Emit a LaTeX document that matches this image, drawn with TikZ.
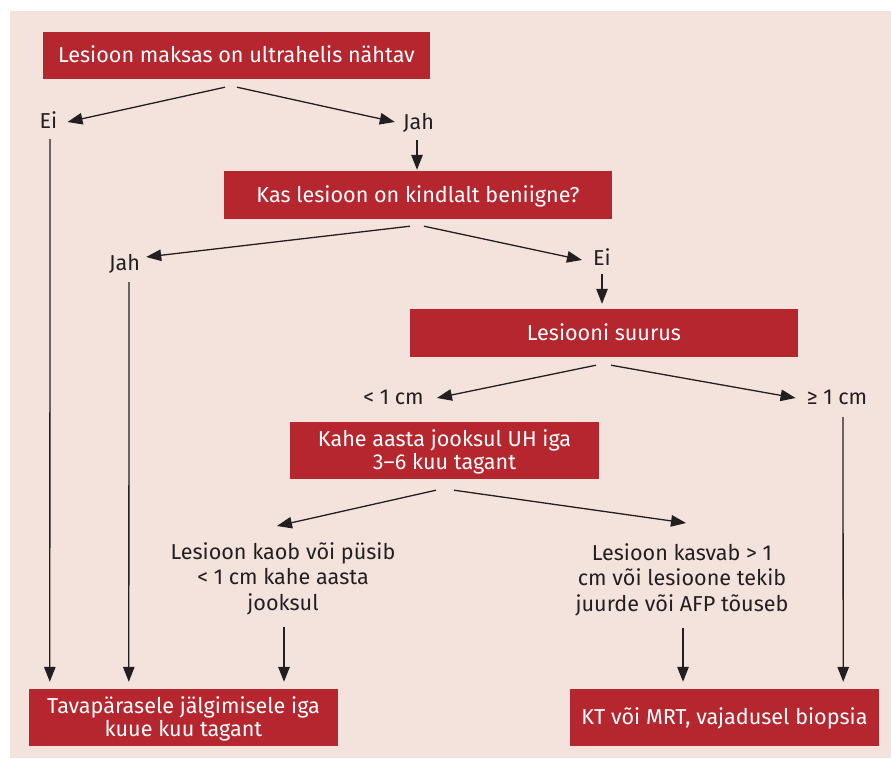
\documentclass[tikz,border=0pt]{standalone}
\usepackage{fontspec}
\setmainfont{Fira Sans}
\usetikzlibrary{arrows.meta}
\definecolor{bgc}{HTML}{F4E3DC}
\definecolor{boxred}{HTML}{B5262E}
\definecolor{ink}{HTML}{231F20}
\begin{document}
\begin{tikzpicture}[x=1pt,y=-1pt,
  redbox/.style={fill=boxred, text=white, inner sep=0pt, align=center,
    font=\fontsize{21.6}{23.5}\selectfont, text height=14.9pt, text depth=0pt},
  redbox2/.style={redbox, text height=38.4pt},
  lbl/.style={text=ink, inner sep=0pt, align=center, anchor=base,
    font=\fontsize{21.6}{25.5}\selectfont},
  lbl3/.style={lbl, anchor=north, text height=65.9pt, text depth=0pt},
  arr/.style={draw=ink, line width=1.3pt, -{Triangle[length=15pt,width=11.5pt]}}
]
\useasboundingbox (0,0) rectangle (891,758);
\fill[bgc] (10,11) rectangle (891,758);

% boxes
\node[redbox, minimum width=387pt, minimum height=47pt] (b1) at (236.5,55.5) {Lesioon maksas on ultrahelis nähtav};
\node[redbox, minimum width=388pt, minimum height=48pt] (b2) at (418,195) {Kas lesioon on kindlalt beniigne?};
\node[redbox, minimum width=388pt, minimum height=48pt] (b3) at (604,333) {Lesiooni suurus};
\node[redbox2, minimum width=309pt, minimum height=57pt] (b4) at (444.5,450.5) {Kahe aasta jooksul UH iga\\3–6 kuu tagant};
\node[redbox2, minimum width=309pt, minimum height=57pt] (b5) at (183.5,717.5) {Tavapärasele jälgimisele iga\\kuue kuu tagant};
\node[redbox, minimum width=309pt, minimum height=57pt] (b6) at (724.5,717.5) {KT või MRT, vajadusel biopsia};

% labels
\node[lbl] (ei1) at (48.5,128) {Ei};
\node[lbl] (jah1) at (418.5,129) {Jah};
\node[lbl] (jah2) at (124.5,270) {Jah};
\node[lbl] (ei2) at (602,265) {Ei};
\node[lbl] (lt1) at (393.5,404) {< 1 cm};
\node[lbl] (ge1) at (837,404) {≥ 1 cm};
\node[lbl3] (t1) at (283,544) {Lesioon kaob või püsib\\< 1 cm kahe aasta\\jooksul};
\node[lbl3] (t2) at (682,545) {Lesioon kasvab > 1\\cm või lesioone tekib\\juurde või AFP tõuseb};

% connectors
\draw[arr] ([shift={(-11.5,8)}]b1.south) -- ([shift={(10,-6)}]ei1.base east);
\draw[arr] ([shift={(0.5,8)}]b1.south) -- ([shift={(-8,-7)}]jah1.base west);
\draw[arr] ([shift={(-1.5,11)}]jah1.base) -- ([shift={(-1,-1)}]b2.north);
\draw[arr] ([shift={(1.5,11)}]ei1.base) -- ([shift={(21,-7)}]b5.north west);
\draw[arr] ([shift={(-8,7)}]b2.south) -- ([shift={(6,-13)}]jah2.base east);
\draw[arr] ([shift={(6,7)}]b2.south) -- ([shift={(-11,-5)}]ei2.base west);
\draw[arr] ([shift={(0,9)}]ei2.base) -- ([shift={(-2,-5)}]b3.north);
\draw[arr] ([shift={(4.5,12)}]jah2.base) -- ([shift={(100,-7)}]b5.north west);
\draw[arr] ([shift={(-8,8)}]b3.south) -- ([shift={(13,-6)}]lt1.base east);
\draw[arr] ([shift={(7,8)}]b3.south) -- ([shift={(-11,-6)}]ge1.base west);
\draw[arr] ([shift={(6,13)}]ge1.base) -- ([shift={(-36,-7)}]b6.north east);
\draw[arr] ([shift={(-8.5,11)}]b4.south) -- ([shift={(-6,-18)}]t1.north);
\draw[arr] ([shift={(9.5,11)}]b4.south) -- ([shift={(4,-22)}]t2.north);
\draw[arr] ([shift={(1,17)}]t1.south) -- ([shift={(100.5,-7)}]b5.north);
\draw[arr] ([shift={(1,17)}]t2.south) -- ([shift={(-41.5,-7)}]b6.north);
\end{tikzpicture}
\end{document}
